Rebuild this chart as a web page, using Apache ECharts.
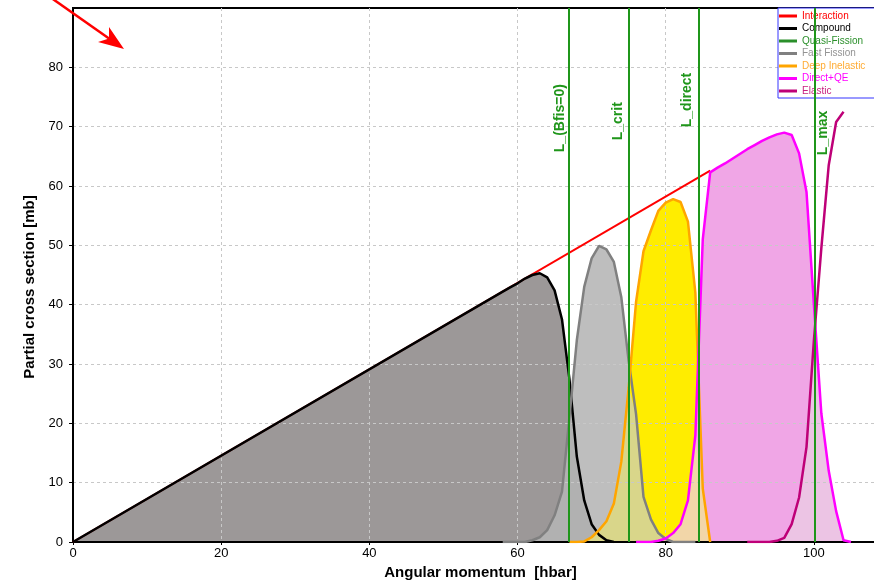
<!DOCTYPE html>
<html>
<head>
<meta charset="utf-8">
<script src="https://cdn.jsdelivr.net/npm/echarts@6/dist/echarts.min.js"></script>
<style>
    html, body { margin: 0; padding: 0; background: #fff; }
    #main { width: 874px; height: 581px; }
</style>
</head>
<body>
<div id="main"></div>
<script>
// partial cross sections vs angular momentum
var interactionL = [0, 86];
var interactionSigma = [0, 62.6];

var compoundL = [0, 58, 59, 60, 61, 62, 63, 64, 65, 66, 67, 68, 69, 70, 71, 72, 73];
var compoundSigma = [0, 42.2, 42.9, 43.6, 44.4, 45.0, 45.3, 44.6, 42.4, 37.5, 27.5, 14.4, 7.0, 3.0, 1.2, 0.3, 0];

var fastFissionL = [58, 59, 60, 61, 62, 63, 64, 65, 66, 67, 68, 69, 70, 71, 72, 73, 74, 75, 76, 77, 78, 79, 80, 81, 82, 83, 84];
var fastFissionSigma = [0, 0, 0, 0, 0.3, 0.8, 2, 4.5, 8.5, 21, 34, 43, 47.8, 49.9, 49.3, 47.2, 41.3, 30.5, 21.5, 7.6, 3.8, 1.5, 0.5, 0, 0, 0, 0];

var deepInelasticL = [67, 68, 69, 70, 71, 72, 73, 74, 75, 76, 77, 78, 79, 80, 81, 82, 83, 84, 85, 86];
var deepInelasticSigma = [0, 0, 0.1, 0.8, 2, 3.5, 6.5, 13.5, 26, 40.5, 49, 52.5, 55.8, 57.2, 57.8, 57.3, 54, 42, 9, 0];

var directL = [76, 77, 78, 79, 80, 81, 82, 83, 84, 85, 86, 87, 88, 89, 90, 91, 92, 93, 94, 95, 96, 97, 98, 99, 100, 101, 102, 103, 104, 105];
var directSigma = [0, 0, 0, 0.2, 0.6, 1.5, 3, 7, 18, 51, 62.3, 63.1, 63.8, 64.6, 65.4, 66.2, 66.9, 67.6, 68.2, 68.7, 69.0, 68.6, 65.5, 59, 40, 21.7, 12, 5.2, 0.3, 0];

var elasticL = [91, 92, 93, 94, 95, 96, 97, 98, 99, 100, 101, 102, 103, 104];
var elasticSigma = [0, 0, 0, 0, 0.2, 0.7, 3, 7.5, 16, 34, 49.5, 63.5, 70.8, 72.5];

// characteristic angular momenta (green lines)
var markerNames = ['L_(Bfis=0)', 'L_crit', 'L_direct', 'L_max'];
var markerL = [66.9, 75.0, 84.5, 100.1];

var legendNames = ['Interaction', 'Compound', 'Quasi-Fission', 'Fast Fission', 'Deep Inelastic', 'Direct+QE', 'Elastic'];
var legendColors = ['#ff0000', '#000000', '#2a8f2a', '#939393', '#ffab33', '#ff00ff', '#c8207f'];

var xTicks = [0, 20, 40, 60, 80, 100];
var yTicks = [0, 10, 20, 30, 40, 50, 60, 70, 80];

var green = '#1f961a';

function pairs(xs, ys) {
    return xs.map(function (x, i) { return [x, ys[i]]; });
}

// region under both curves (same integer L grid)
function overlap(aL, aS, bL, bS) {
    var m = {};
    bL.forEach(function (l, i) { m[l] = bS[i]; });
    var out = [];
    aL.forEach(function (l, i) {
        if (m[l] !== undefined) out.push([l, Math.min(aS[i], m[l])]);
    });
    return out;
}

function fill(name, data, color, z) {
    return {
        name: name, type: 'line', data: data, symbol: 'none', silent: true, z: z,
        lineStyle: { width: 0 },
        areaStyle: { color: color, opacity: 1 }
    };
}

function curve(name, data, color, width) {
    return {
        name: name, type: 'line', data: data, symbol: 'none', z: 4,
        lineStyle: { color: color, width: width },
        itemStyle: { color: color }
    };
}

var chart = echarts.init(document.getElementById('main'));

var option = {
    animation: false,
    backgroundColor: '#fff',
    grid: {
        left: 73, top: 8, right: -14, bottom: 39,
        show: true, borderColor: '#000', borderWidth: 2,
        outerBoundsMode: 'none'
    },
    legend: {
        orient: 'vertical',
        left: 778, top: 8,
        selectedMode: false,
        backgroundColor: '#fff',
        borderColor: '#3434ff', borderWidth: 1,
        padding: [2, 30, 1, 1],
        itemGap: 0.5,
        itemWidth: 18, itemHeight: 3,
        icon: 'rect',
        textStyle: { fontSize: 10, fontFamily: 'Arial', lineHeight: 12 },
        data: legendNames.map(function (n, i) {
            return { name: n, textStyle: { color: legendColors[i] } };
        })
    },
    xAxis: {
        type: 'value', min: 0, max: 110, interval: 20, z: 2,
        name: 'Angular momentum  [hbar]',
        nameLocation: 'middle', nameGap: 22,
        nameTextStyle: { fontFamily: 'Arial', fontWeight: 'bold', fontSize: 15, color: '#000' },
        axisLine: { lineStyle: { color: '#000', width: 2 } },
        axisTick: { show: true, length: 3, lineStyle: { color: '#000' } },
        axisLabel: {
            color: '#000', fontFamily: 'Arial', fontSize: 13, margin: 5, showMaxLabel: false,
            formatter: function (v) { return xTicks.indexOf(v) >= 0 ? v : ''; }
        },
        splitLine: { show: true, showMinLine: false, lineStyle: { color: '#c8c8c8', type: [3, 3], width: 1 } }
    },
    yAxis: {
        type: 'value', min: 0, max: 90, interval: 10, z: 2,
        name: 'Partial cross section [mb]',
        nameLocation: 'middle', nameGap: 36,
        nameTextStyle: { fontFamily: 'Arial', fontWeight: 'bold', fontSize: 15, color: '#000', padding: [0, 24, 0, 0] },
        axisLine: { show: true, lineStyle: { color: '#000', width: 2 } },
        axisTick: { show: true, length: 4, lineStyle: { color: '#000' } },
        axisLabel: {
            color: '#000', fontFamily: 'Arial', fontSize: 13, margin: 10, showMaxLabel: false,
            formatter: function (v) { return yTicks.indexOf(v) >= 0 ? v : ''; }
        },
        splitLine: { show: true, showMinLine: false, showMaxLine: false, lineStyle: { color: '#c8c8c8', type: [3, 3], width: 1 } }
    },
    series: [
        // filled regions
        fill('fill-compound', pairs(compoundL, compoundSigma), '#9c9898', 1),
        fill('fill-ff', pairs(fastFissionL, fastFissionSigma), 'rgba(180,180,180,0.87)', 1),
        fill('fill-di', pairs(deepInelasticL, deepInelasticSigma), '#ffed00', 1),
        fill('fill-ff-di', overlap(fastFissionL, fastFissionSigma, deepInelasticL, deepInelasticSigma), '#d9d68a', 1),
        fill('fill-direct', pairs(directL, directSigma), '#f0a6e6', 1),
        fill('fill-di-direct', overlap(deepInelasticL, deepInelasticSigma, directL, directSigma), '#f2d6a8', 1),
        fill('fill-direct-el', overlap(directL, directSigma, elasticL, elasticSigma), '#ecc4e4', 1),
        // curves
        curve('Interaction', pairs(interactionL, interactionSigma), '#ff0000', 2),
        curve('Compound', pairs(compoundL, compoundSigma), '#000000', 2.5),
        curve('Quasi-Fission', [], '#2a8f2a', 2.5),
        curve('Fast Fission', pairs(fastFissionL, fastFissionSigma), '#808080', 2.5),
        curve('Deep Inelastic', pairs(deepInelasticL, deepInelasticSigma), '#ffa500', 2.5),
        curve('Direct+QE', pairs(directL, directSigma), '#ff00ff', 2.5),
        curve('Elastic', pairs(elasticL, elasticSigma), '#be0078', 2.5),
        {
            name: 'markers', type: 'line', data: [], z: 5, silent: true,
            markLine: {
                symbol: 'none', silent: true,
                label: { show: false },
                lineStyle: { color: green, width: 2, type: 'solid' },
                data: markerL.map(function (l) { return { xAxis: l }; })
            }
        }
    ]
};
chart.setOption(option);

// marker names, written vertically beside each green line
var labelStart = [65.7, 67.7, 69.9, 65.2];
var labelShift = [-2, -4, -5, 1];
var graphics = markerNames.map(function (n, i) {
    var p = chart.convertToPixel({ gridIndex: 0 }, [markerL[i], labelStart[i]]);
    return {
        type: 'text', x: p[0] + labelShift[i], y: p[1], rotation: Math.PI / 2, z: 10,
        style: {
            text: n, fill: green, font: 'bold 14px Arial',
            textAlign: 'left', textVerticalAlign: i === 3 ? 'top' : 'bottom'
        }
    };
});

// red arrow in the upper left corner
graphics.push({
    type: 'polyline', z: 10,
    shape: { points: [[40, -10], [114, 42]] },
    style: { stroke: '#ff0000', lineWidth: 2.5 }
});
graphics.push({
    type: 'polygon', z: 10,
    shape: { points: [[124, 49], [98, 42], [109, 38.6], [109, 27]] },
    style: { fill: '#ff0000' }
});

chart.setOption({ graphic: graphics });
</script>
</body>
</html>
